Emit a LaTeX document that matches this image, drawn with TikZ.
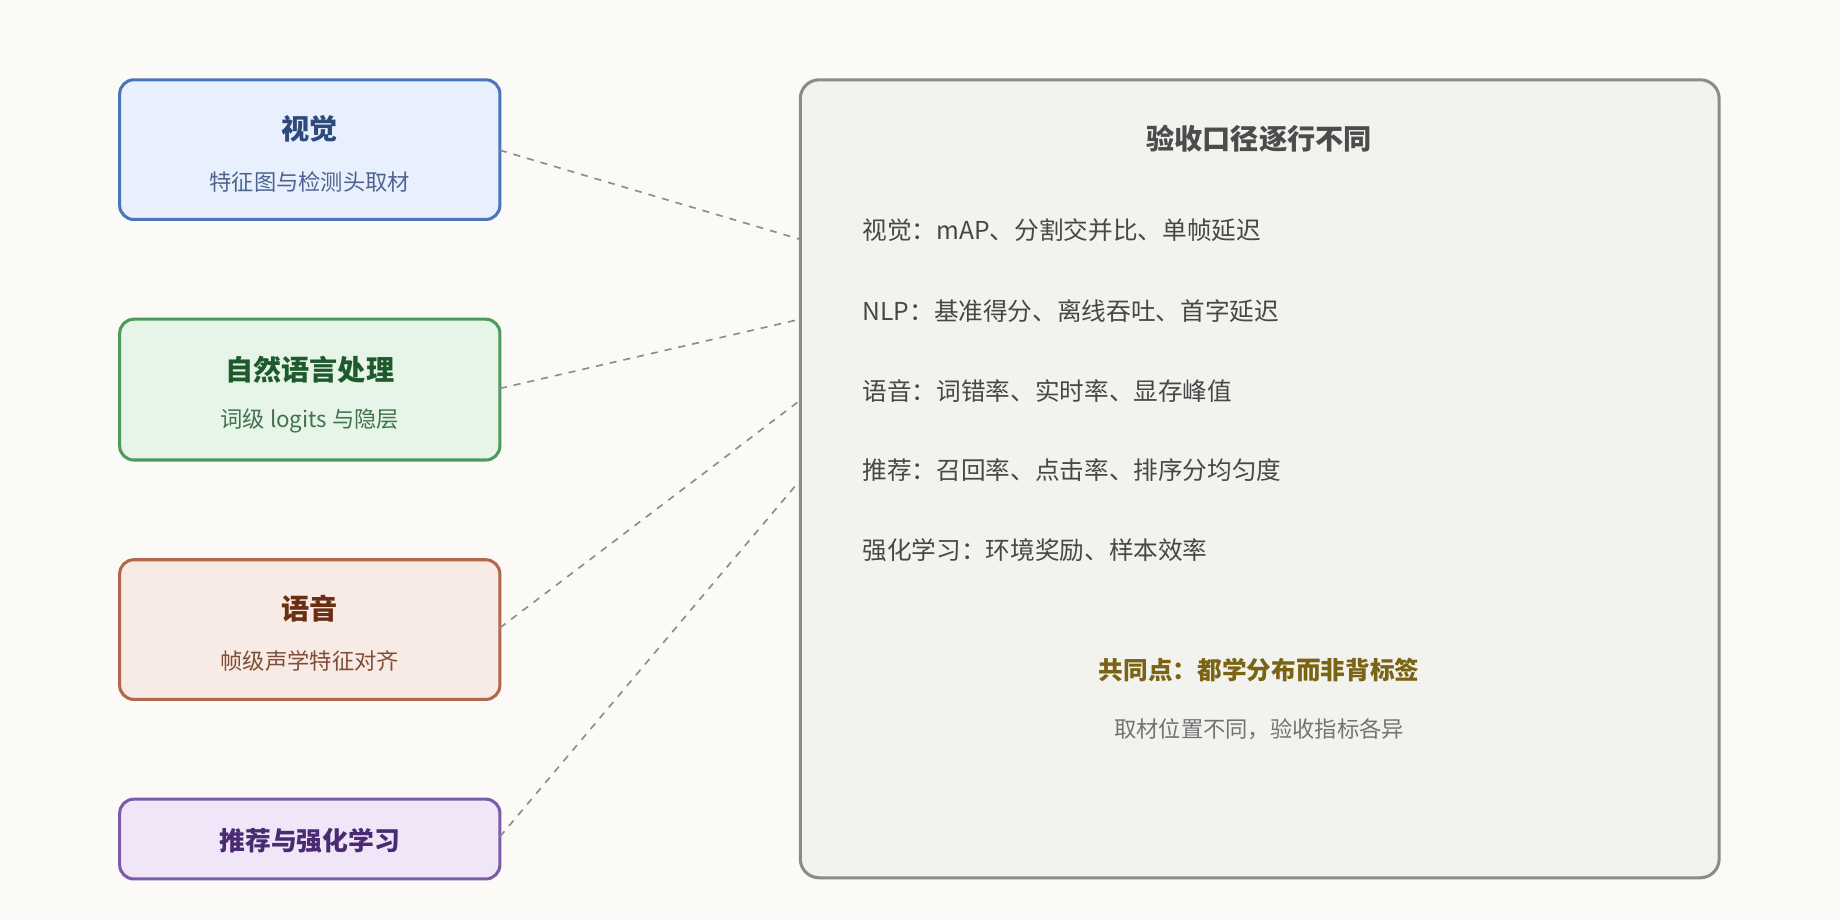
\documentclass[tikz,border=0pt]{standalone}
\usepackage{fontspec}
\setmainfont{Noto Sans CJK SC}
\begin{document}
\begin{tikzpicture}[x=0.5pt,y=-0.5pt,
  lbox/.style={draw, line width=1.3pt, rounded corners=6pt},
  ttl/.style={font=\fontsize{12}{14}\selectfont\bfseries},
  sub/.style={font=\fontsize{9.5}{12}\selectfont},
  item/.style={font=\fontsize{10.5}{13}\selectfont, text=black!72, anchor=west},
  conn/.style={draw=black!45, dashed, line width=0.7pt}]
\fill[fill={rgb,255:red,251;green,250;blue,246}] (0,0) rectangle (1568,784);
\useasboundingbox (0,0) rectangle (1568,784);
\definecolor{bA}{HTML}{4C74B8}\definecolor{fA}{HTML}{E8F0FE}\definecolor{tA}{HTML}{2E4A7A}
\definecolor{bB}{HTML}{4E9A5C}\definecolor{fB}{HTML}{E6F5E8}\definecolor{tB}{HTML}{1F5A2E}
\definecolor{bC}{HTML}{B0684C}\definecolor{fC}{HTML}{F8EAE4}\definecolor{tC}{HTML}{6A2E12}
\definecolor{bD}{HTML}{7C5CAA}\definecolor{fD}{HTML}{F0E6F8}\definecolor{tD}{HTML}{4A2A72}
\definecolor{bR}{HTML}{8C8C86}\definecolor{fR}{HTML}{F2F3EE}
\draw[lbox,draw=bA,fill=fA] (102,68) rectangle (426,187);
\node[ttl,text=tA] (a) at (264,110) {视觉};
\node[sub,text=tA!85] (a2) at (264,155) {特征图与检测头取材};
\draw[lbox,draw=bB,fill=fB] (102,272) rectangle (426,392);
\node[ttl,text=tB] (b) at (264,315) {自然语言处理};
\node[sub,text=tB!85] (b2) at (264,359) {词级 logits 与隐层};
\draw[lbox,draw=bC,fill=fC] (102,477) rectangle (426,596);
\node[ttl,text=tC] (c) at (264,519) {语音};
\node[sub,text=tC!85] (c2) at (264,563) {帧级声学特征对齐};
\draw[lbox,draw=bD,fill=fD] (102,681) rectangle (426,749);
\node[ttl,text=tD,font=\fontsize{11}{14}\selectfont\bfseries] (d) at (264,716) {推荐与强化学习};
\draw[lbox,draw=bR,fill=fR,rounded corners=8pt] (682,68) rectangle (1465,748);
\coordinate (la) at (426,128); \coordinate (ra) at (682,204);
\coordinate (lb) at (426,331); \coordinate (rb) at (682,272);
\coordinate (lc) at (426,535); \coordinate (rc) at (682,341);
\coordinate (ld) at (426,713); \coordinate (rd) at (682,409);
\draw[conn] (la)--(ra); \draw[conn] (lb)--(rb); \draw[conn] (lc)--(rc); \draw[conn] (ld)--(rd);
\node[ttl,text=black!70] (t) at (1073,118) {验收口径逐行不同};
\node[item] (i1) at (728,196) {视觉：mAP、分割交并比、单帧延迟};
\node[item] (i2) at (728,265) {NLP：基准得分、离线吞吐、首字延迟};
\node[item] (i3) at (728,333) {语音：词错率、实时率、显存峰值};
\node[item] (i4) at (728,401) {推荐：召回率、点击率、排序分均匀度};
\node[item] (i5) at (728,469) {强化学习：环境奖励、样本效率};
\node[font=\fontsize{10.5}{13}\selectfont\bfseries,text={rgb,255:red,122;green,100;blue,20}] (k) at (1073,571) {共同点：都学分布而非背标签};
\node[font=\fontsize{9.5}{12}\selectfont,text=black!55] (k2) at (1073,621) {取材位置不同，验收指标各异};
\end{tikzpicture}
\end{document}
